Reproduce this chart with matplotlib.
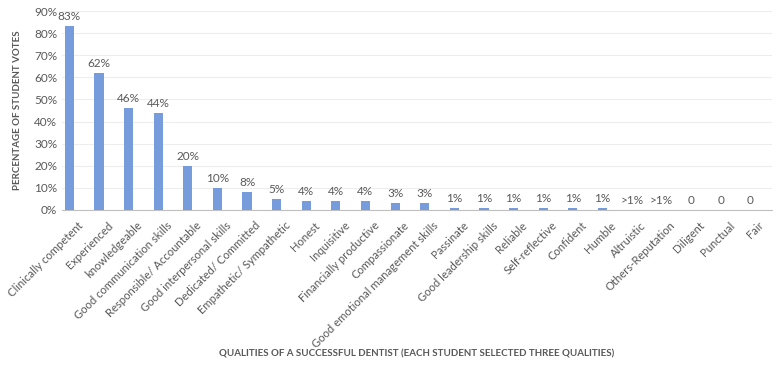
import matplotlib.pyplot as plt
import matplotlib.transforms as mtransforms

plt.rcParams['font.family'] = ['Lato', 'DejaVu Sans']

qualities = ['Clinically competent', 'Experienced', 'knowledgeable',
             'Good communication skills', 'Responsible/ Accountable',
             'Good interpersonal skills', 'Dedicated/ Committed',
             'Empathetic/ Sympathetic', 'Honest', 'Inquisitive',
             'Financially productive', 'Compassionate',
             'Good emotional management skills', 'Passinate',
             'Good leadership skills', 'Reliable', 'Self-reflective',
             'Confident', 'Humble', 'Altruistic', 'Others-Reputation',
             'Diligent', 'Punctual', 'Fair']
votes = [83, 62, 46, 44, 20, 10, 8, 5, 4, 4, 4, 3, 3, 1, 1, 1, 1, 1, 1,
         0, 0, 0, 0, 0]
vote_labels = ['83%', '62%', '46%', '44%', '20%', '10%', '8%', '5%', '4%',
               '4%', '4%', '3%', '3%', '1%', '1%', '1%', '1%', '1%', '1%',
               '>1%', '>1%', '0', '0', '0']

grey = '#595959'
fig = plt.figure(figsize=(7.79, 3.66), dpi=100)
ax = fig.add_axes([62 / 779, 156 / 366, 710 / 779, 199 / 366])

x = list(range(len(qualities)))
ax.bar(x, votes, width=0.31, color='#769cdb', zorder=3)

for xi, v, lab in zip(x, votes, vote_labels):
    ax.annotate(lab, (xi, v), xytext=(0, 3), textcoords='offset points',
                ha='center', va='bottom', fontsize=8.5, color=grey)

ax.set_xlim(-0.25, 23.73)
ax.set_ylim(0, 90)
ax.set_yticks(range(0, 91, 10))
ax.set_yticklabels([f'{t}%' for t in range(0, 91, 10)])
ax.set_xticks(x)
ax.set_xticklabels(qualities, rotation=45, ha='right', va='top',
                   rotation_mode='anchor')
ax.tick_params(axis='both', length=0, labelsize=8.5, colors=grey)
ax.tick_params(axis='x', labelsize=8.1, pad=7)
shift = mtransforms.ScaledTranslation(8 / 100, 0, fig.dpi_scale_trans)
for lbl in ax.get_xticklabels():
    lbl.set_transform(lbl.get_transform() + shift)
ax.grid(axis='y', color='#ededed', linewidth=0.8, zorder=0)
for s in ['top', 'right', 'left']:
    ax.spines[s].set_visible(False)
ax.spines['bottom'].set_color('#bfbfbf')

fig.text(18 / 779, (366 - 110) / 366, 'PERCENTAGE OF STUDENT VOTES',
         rotation=90, ha='center', va='center', fontsize=7, fontweight='bold',
         color=grey)
fig.text(417 / 779, 12 / 366,
         'QUALITIES OF A SUCCESSFUL DENTIST (EACH STUDENT SELECTED THREE QUALITIES)',
         ha='center', va='center', fontsize=7, fontweight='bold', color=grey)

plt.savefig('out.png', dpi=100)
